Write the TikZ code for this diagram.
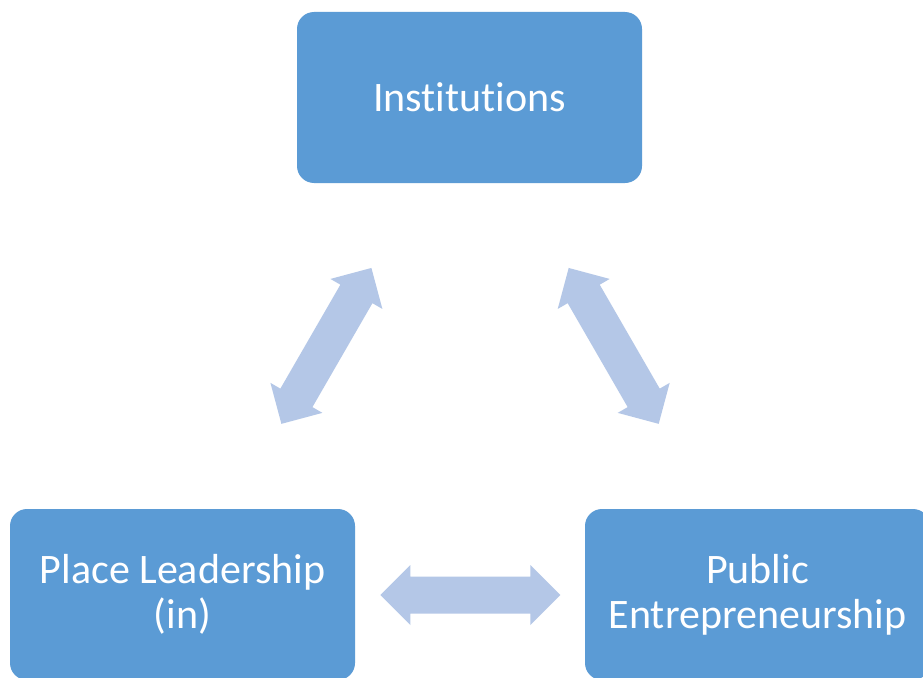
\documentclass[tikz,border=0pt]{standalone}
\usepackage{fontspec}
\setmainfont[RawFeature={-liga;-clig;-calt;-dlig}]{Carlito}
\definecolor{boxblue}{HTML}{5B9BD5}
\definecolor{arrowblue}{HTML}{B4C7E7}
% keep "t" and "i" as separate glyphs
\newcommand{\tisep}{\kern0pt\relax}
\begin{document}
\begin{tikzpicture}[x=1pt,y=-1pt,
  conceptbox/.style={fill=boxblue, draw=none, rounded corners=17pt,
    minimum width=345pt, minimum height=171pt, inner sep=0pt,
    text=white, align=center, font=\fontsize{42}{45}\selectfont},
  dblarrow/.pic={
    \fill[arrowblue] (-90,0) -- (-60,30) -- (-60,18.5) -- (60,18.5) -- (60,30)
      -- (90,0) -- (60,-30) -- (60,-18.5) -- (-60,-18.5) -- (-60,-30) -- cycle;
  }]
  \useasboundingbox (0,0) rectangle (923,677);
  \fill[white] (0,0) rectangle (923,677);

  % the three concepts
  \node[conceptbox] (inst) at (469.5,97.5) {Inst\tisep itut\tisep ions};
  \node[conceptbox] (place) at (182.5,594.5) {Place Leadership\\(in)};
  \node[conceptbox] (pub) at (757.5,594.5) {Public\\Entrepreneurship};

  % two-way links between them
  \coordinate (linkleft) at (326.4,345.9);
  \coordinate (linkright) at (613.7,345.9);
  \coordinate (linkbottom) at (470.4,595);
  \pic[rotate=60] at (linkleft) {dblarrow};
  \pic[rotate=-60] at (linkright) {dblarrow};
  \pic at (linkbottom) {dblarrow};
\end{tikzpicture}
\end{document}
